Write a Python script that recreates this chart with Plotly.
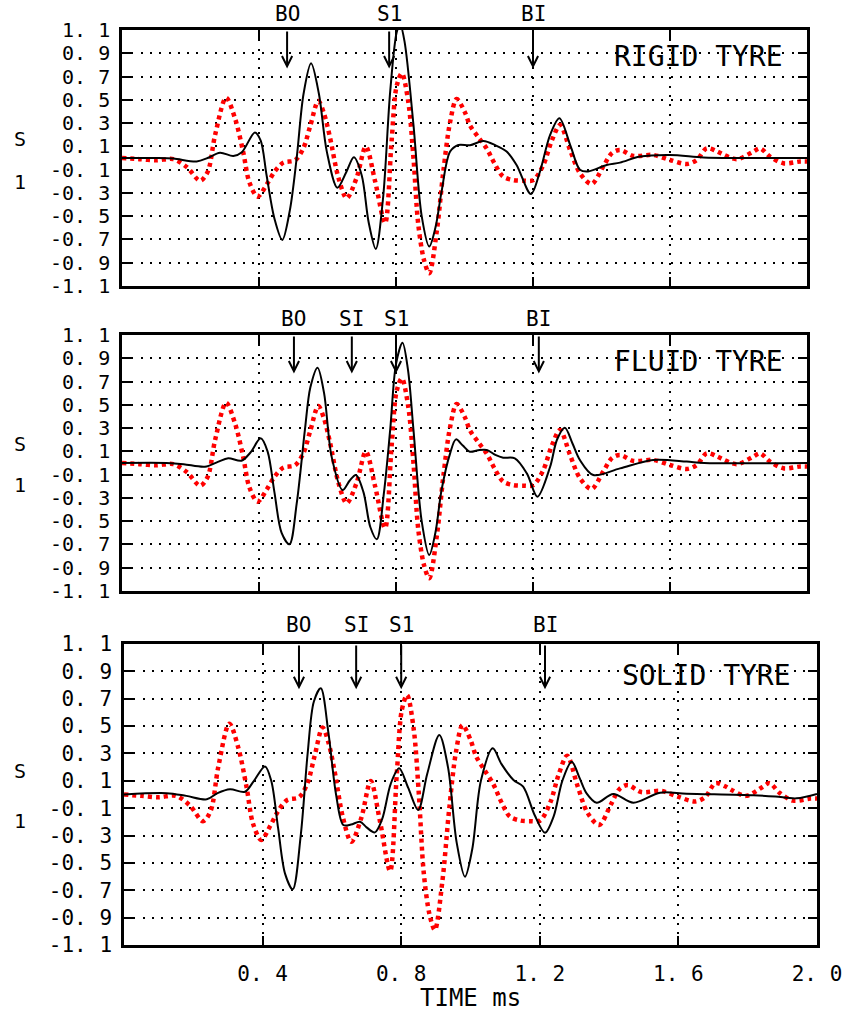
import plotly.graph_objects as go

# ---------------- data ----------------
# reference (red dotted) signal - identical in all three panels
ref_t = [0.00, 0.05, 0.10, 0.15, 0.19, 0.228, 0.25, 0.272, 0.304, 0.33, 0.354, 0.372, 0.396,
         0.422, 0.445, 0.471, 0.505, 0.529, 0.55, 0.573, 0.59, 0.607, 0.632, 0.656, 0.685,
         0.712, 0.739, 0.768, 0.787, 0.802, 0.817, 0.836, 0.851, 0.865, 0.882, 0.897, 0.919,
         0.938, 0.958, 0.977, 1.00, 1.016, 1.04, 1.065, 1.09, 1.113, 1.143, 1.175, 1.201,
         1.23, 1.255, 1.279, 1.308, 1.337, 1.371, 1.405, 1.43, 1.454, 1.493, 1.551, 1.60,
         1.649, 1.678, 1.707, 1.735, 1.756, 1.795, 1.843, 1.863, 1.892, 1.931, 1.98, 2.0]
ref_s = [0.00, -0.01, -0.02, -0.01, -0.08, -0.195, -0.12, 0.20, 0.518, 0.34, 0.05, -0.21, -0.332,
         -0.23, -0.12, -0.04, -0.02, 0.08, 0.28, 0.49, 0.38, 0.18, -0.17, -0.346, -0.17,
         0.098, -0.20, -0.56, 0.14, 0.62, 0.727, 0.48, 0.0, -0.57, -0.88, -0.99, -0.63,
         -0.12, 0.31, 0.507, 0.40, 0.28, 0.18, 0.08, -0.06, -0.16, -0.19, -0.195, -0.19,
         -0.06, 0.15, 0.284, 0.07, -0.13, -0.223, -0.074, 0.04, 0.069, 0.018, 0.026, -0.017,
         -0.051, -0.017, 0.083, 0.06, 0.03, -0.01, 0.055, 0.083, 0.012, -0.045, -0.03, -0.03]

rigid_t = [0.00, 0.10, 0.15, 0.218, 0.25, 0.286, 0.325, 0.35, 0.388, 0.405, 0.422, 0.445, 0.468,
           0.49, 0.510, 0.53, 0.552, 0.575, 0.598, 0.629, 0.655, 0.677, 0.70, 0.72, 0.741,
           0.762, 0.783, 0.802, 0.812, 0.825, 0.851, 0.875, 0.897, 0.915, 0.933, 0.958, 0.982,
           1.016, 1.055, 1.09, 1.123, 1.152, 1.194, 1.22, 1.25, 1.277, 1.31, 1.337, 1.361,
           1.415, 1.454, 1.512, 1.60, 1.697, 1.80, 2.0]
rigid_s = [0.00, 0.00, -0.005, -0.03, 0.00, 0.046, 0.018, 0.05, 0.22, 0.15, -0.146, -0.52, -0.704,
           -0.45, 0.00, 0.55, 0.814, 0.55, 0.055, -0.255, -0.12, 0.006, -0.15, -0.55, -0.781,
           -0.35, 0.57, 1.08, 1.15, 1.0, 0.284, -0.50, -0.761, -0.60, -0.289, 0.055, 0.112,
           0.11, 0.146, 0.11, 0.055, -0.06, -0.31, -0.12, 0.198, 0.341, 0.10, -0.10, -0.115,
           -0.06, -0.04, 0.012, 0.026, 0.005, 0.0, 0.0]

fluid_t = [0.00, 0.13, 0.18, 0.242, 0.28, 0.31, 0.349, 0.375, 0.405, 0.425, 0.445, 0.466, 0.489,
           0.51, 0.534, 0.55, 0.571, 0.59, 0.612, 0.644, 0.665, 0.683, 0.705, 0.725, 0.744,
           0.765, 0.783, 0.80, 0.819, 0.835, 0.851, 0.875, 0.897, 0.915, 0.933, 0.958, 0.975,
           0.995, 1.016, 1.04, 1.065, 1.09, 1.113, 1.147, 1.182, 1.213, 1.25, 1.27, 1.293,
           1.315, 1.337, 1.376, 1.454, 1.551, 1.649, 1.70, 2.0]
fluid_s = [0.00, 0.00, -0.01, -0.032, 0.01, 0.04, 0.02, 0.09, 0.212, 0.10, -0.25, -0.60, -0.698,
           -0.35, 0.284, 0.65, 0.819, 0.60, 0.055, -0.232, -0.15, -0.103, -0.25, -0.55, -0.656,
           -0.25, 0.284, 0.85, 1.034, 0.80, 0.284, -0.50, -0.791, -0.60, -0.232, 0.083, 0.203,
           0.15, 0.097, 0.11, 0.112, 0.07, 0.046, 0.04, -0.089, -0.289, -0.032, 0.20, 0.303,
           0.17, 0.026, -0.103, -0.046, 0.026, 0.012, 0.0, 0.0]

solid_t = [0.00, 0.123, 0.18, 0.239, 0.27, 0.306, 0.349, 0.375, 0.407, 0.425, 0.445, 0.465, 0.487,
           0.51, 0.53, 0.548, 0.568, 0.59, 0.612, 0.633, 0.655, 0.681, 0.70, 0.724, 0.745,
           0.77, 0.794, 0.82, 0.849, 0.875, 0.91, 0.935, 0.96, 0.984, 1.005, 1.03, 1.064,
           1.09, 1.124, 1.152, 1.185, 1.215, 1.24, 1.265, 1.292, 1.315, 1.335, 1.364, 1.412,
           1.47, 1.547, 1.624, 1.816, 1.88, 1.941, 2.0]
solid_s = [0.00, 0.01, -0.01, -0.035, 0.01, 0.038, 0.02, 0.10, 0.205, 0.10, -0.25, -0.58, -0.693,
           -0.30, 0.30, 0.68, 0.776, 0.45, 0.0, -0.223, -0.22, -0.199, -0.24, -0.277, -0.18,
           0.08, 0.191, 0.05, -0.113, 0.15, 0.435, 0.20, -0.35, -0.601, -0.40, 0.10, 0.338,
           0.22, 0.106, 0.057, -0.15, -0.28, -0.16, 0.10, 0.24, 0.12, 0.008, -0.06, 0.004,
           -0.06, 0.013, 0.006, -0.006, -0.015, -0.028, 0.004]

panel_titles = ["RIGID TYRE", "FLUID TYRE", "SOLID TYRE"]
panel_series = [(rigid_t, rigid_s), (fluid_t, fluid_s), (solid_t, solid_s)]

# arrow markers (label, time) per panel
markers = [
    [("BO", 0.482), ("S1", 0.78), ("BI", 1.20)],
    [("BO", 0.502), ("SI", 0.671), ("S1", 0.80), ("BI", 1.217)],
    [("BO", 0.505), ("SI", 0.67), ("S1", 0.80), ("BI", 1.215)],
]
arrow_tip = 0.77

y_ticks = [1.1, 0.9, 0.7, 0.5, 0.3, 0.1, -0.1, -0.3, -0.5, -0.7, -0.9, -1.1]
y_ticktext = ["1. 1", "0. 9", "0. 7", "0. 5", "0. 3", "0. 1",
              "-0. 1", "-0. 3", "-0. 5", "-0. 7", "-0. 9", "-1. 1"]
x_ticks = [0.4, 0.8, 1.2, 1.6, 2.0]
x_ticktext = ["0. 4", "0. 8", "1. 2", "1. 6", "2. 0"]

# ---------------- layout geometry (pixels) ----------------
W, H = 844, 1017
FONT = "DejaVu Sans Mono"
# (left, right, top, bottom) in pixels
boxes = [(122, 807, 30, 286), (122, 807, 335, 591), (124, 817, 644, 945)]
label_y = [14, 319, 625]
title_pos = [(785, 56), (785, 361), (793, 675)]
s_pos = [(139, 182), (444, 485), (771, 821)]


def px(xp):
    return xp / W


def py(yp):
    return 1 - yp / H


fig = go.Figure()
layout = dict(width=W, height=H, margin=dict(l=0, r=0, t=0, b=0, autoexpand=False),
              plot_bgcolor="white", paper_bgcolor="white", showlegend=False,
              font=dict(family=FONT, color="black"))
annotations = []

for i, (box, (t, s)) in enumerate(zip(boxes, panel_series)):
    n = "" if i == 0 else str(i + 1)
    xa, ya = "x" + n, "y" + n
    fig.add_trace(go.Scatter(x=ref_t, y=ref_s, xaxis=xa, yaxis=ya, mode="lines",
                             line=dict(color="#ff0000", width=4.5, dash="4px,4px",
                                       shape="spline", smoothing=0.9),
                             hoverinfo="skip"))
    fig.add_trace(go.Scatter(x=t, y=s, xaxis=xa, yaxis=ya, mode="lines",
                             line=dict(color="black", width=2, shape="spline", smoothing=0.9),
                             hoverinfo="skip"))
    l, r, tp, bt = box
    bottom = (i == 2)
    tick_size = 21 if bottom else 20
    common = dict(showline=True, linecolor="black", linewidth=2.5, mirror="ticks",
                  ticks="inside", ticklen=9, tickwidth=2, tickcolor="black",
                  showgrid=True, gridcolor="black", gridwidth=2, griddash="2px,7.3px",
                  zeroline=False, fixedrange=True, automargin=False)
    layout["xaxis" + n] = dict(common, domain=[px(l), px(r)], range=[0, 2.0],
                               anchor=ya, tickvals=x_ticks, ticktext=x_ticktext,
                               showticklabels=bottom, ticklabelstandoff=8,
                               tickfont=dict(family=FONT, size=21, color="black"))
    layout["yaxis" + n] = dict(common, domain=[py(bt), py(tp)], range=[-1.1, 1.1],
                               anchor=xa, tickvals=y_ticks, ticktext=y_ticktext,
                               ticklabelstandoff=5,
                               tickfont=dict(family=FONT, size=tick_size, color="black"))
    # arrows and their labels
    for lab, tm in markers[i]:
        annotations.append(dict(xref=xa, yref=ya, x=tm, y=arrow_tip, axref=xa, ayref=ya,
                                ax=tm, ay=1.1, text="", showarrow=True, arrowhead=5,
                                arrowsize=1, arrowwidth=2, arrowcolor="black"))
        annotations.append(dict(xref=xa, yref="paper", x=tm, y=py(label_y[i]), text=lab,
                                showarrow=False, xanchor="center", yanchor="middle",
                                font=dict(family=FONT, size=21, color="black")))
    # panel title
    tx, ty = title_pos[i]
    annotations.append(dict(xref="paper", yref="paper", x=px(tx), y=py(ty),
                            text=panel_titles[i], showarrow=False, xanchor="right",
                            yanchor="middle", font=dict(family=FONT, size=28, color="black")))
    # y label "S" over "1"
    sy, oy = s_pos[i]
    annotations.append(dict(xref="paper", yref="paper", x=px(20), y=py(sy), text="S",
                            showarrow=False, xanchor="center", yanchor="middle",
                            font=dict(family=FONT, size=20, color="black")))
    annotations.append(dict(xref="paper", yref="paper", x=px(20), y=py(oy), text="1",
                            showarrow=False, xanchor="center", yanchor="middle",
                            font=dict(family=FONT, size=20, color="black")))

annotations.append(dict(xref="paper", yref="paper", x=px(471), y=py(998), text="TIME ms",
                        showarrow=False, xanchor="center", yanchor="middle",
                        font=dict(family=FONT, size=24, color="black")))
layout["annotations"] = annotations
fig.update_layout(**layout)
fig.write_html("out.html")
